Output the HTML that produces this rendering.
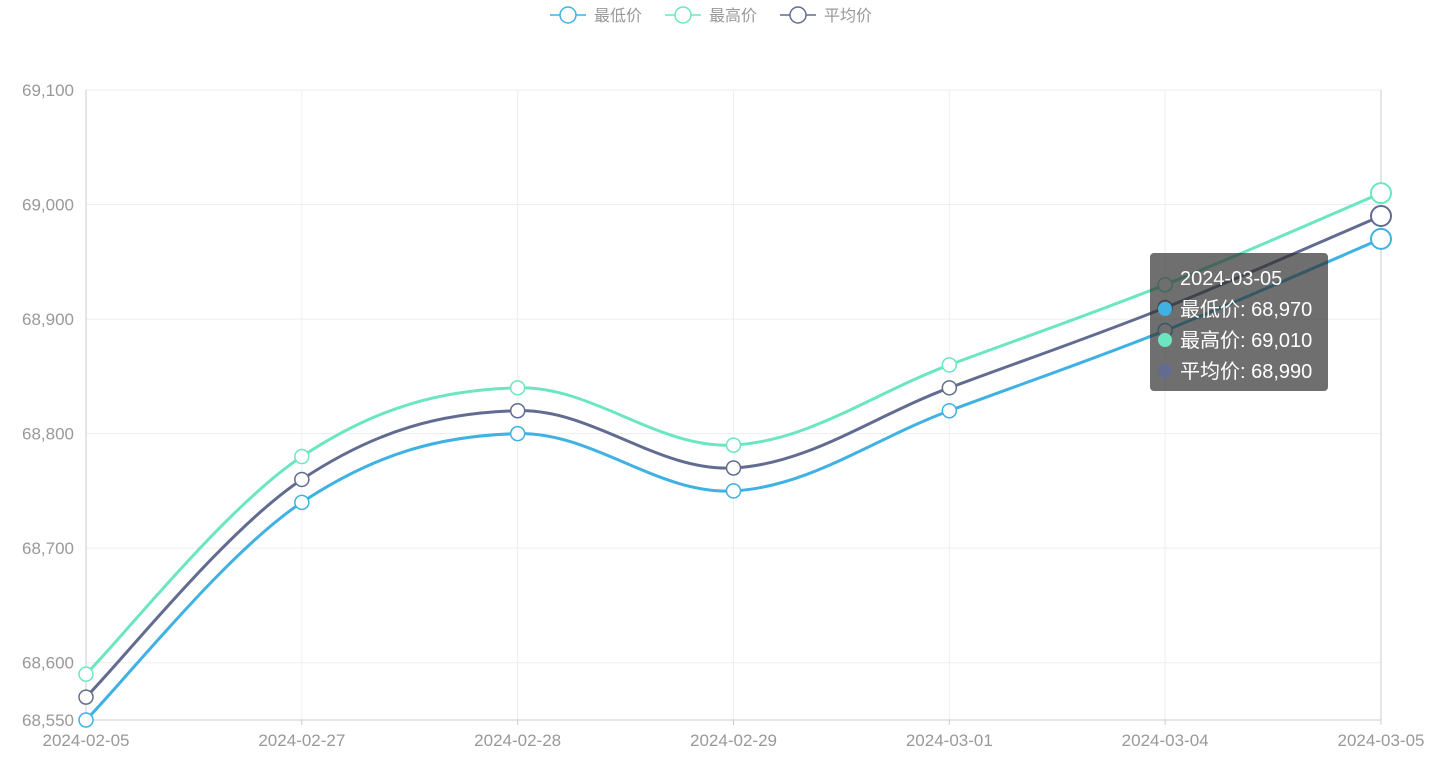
<!DOCTYPE html>
<html><head><meta charset="utf-8"><style>
html,body{margin:0;padding:0;background:#fff;width:1449px;height:762px;overflow:hidden}
svg text{font-family:"Liberation Sans","Noto Sans CJK SC",sans-serif}
</style></head><body>
<svg id="chart" width="1449" height="762"></svg>
<script>
const categories=["2024-02-05","2024-02-27","2024-02-28","2024-02-29","2024-03-01","2024-03-04","2024-03-05"];
const lowValues=[68550,68740,68800,68750,68820,68890,68970];
const highValues=[68590,68780,68840,68790,68860,68930,69010];
const avgValues=[68570,68760,68820,68770,68840,68910,68990];
const seriesNames=["最低价","最高价","平均价"];
const yTicks=[68550,68600,68700,68800,68900,69000,69100];
const NS="http://www.w3.org/2000/svg";
const svg=document.getElementById('chart');
const L=86,R=1381,T=90,B=720,yMin=68550,yMax=69100;
const x=i=>L+(R-L)*i/(categories.length-1);
const y=v=>B-(v-yMin)/(yMax-yMin)*(B-T);
function mk(tag,attrs,parent){const e=document.createElementNS(NS,tag);for(const k in attrs)e.setAttribute(k,attrs[k]);(parent||svg).appendChild(e);return e;}
const fmt=v=>v.toLocaleString('en-US');
// grid
yTicks.forEach(t=>{
  if(t!==yMin){const g=mk('line',{x1:L,x2:R,y1:y(t),y2:y(t),stroke:'#eee'});
  
  }
  const tx=mk('text',{x:L-12,y:y(t)+6,'text-anchor':'end','font-size':17,fill:'#999'});
  tx.textContent=fmt(t);
  
  
});
categories.forEach((c,i)=>{
  if(i>0&&i<categories.length-1){const g=mk('line',{x1:x(i),x2:x(i),y1:T,y2:B,stroke:'#eee'});
  
  }
  const tk=mk('line',{x1:x(i),x2:x(i),y1:B,y2:B+5,stroke:'#ccc'});
  
  
  const tx=mk('text',{x:x(i),y:B+26,'text-anchor':'middle','font-size':17,fill:'#999'});
  tx.textContent=c;
  
  
});
const ax=mk('line',{x1:L,x2:R,y1:B,y2:B,stroke:'#ccc'});


const ayl=mk('line',{x1:L,x2:L,y1:T,y2:B,stroke:'#ccc'});


const ayr=mk('line',{x1:R,x2:R,y1:T,y2:B,stroke:'#ccc'});


function path(vals){
  const p=vals.map((v,i)=>[x(i),y(v)]);let d=`M${p[0][0]},${p[0][1]}`;const s=0.35;
  for(let i=0;i<p.length-1;i++){const p0=p[Math.max(0,i-1)],p1=p[i],p2=p[i+1],p3=p[Math.min(p.length-1,i+2)];
    const c1=[p1[0]+(p2[0]-p0[0])*s/2,p1[1]+(p2[1]-p0[1])*s/2],c2=[p2[0]-(p3[0]-p1[0])*s/2,p2[1]-(p3[1]-p1[1])*s/2];
    d+=` C${c1[0]},${c1[1]} ${c2[0]},${c2[1]} ${p2[0]},${p2[1]}`;}
  return d;}
const colors=['#3fb1e3','#6be6c1','#626c91'];
const slugs=['low','high','avg'];
[lowValues,highValues,avgValues].forEach((vals,si)=>{
  const pl=mk('path',{d:path(vals),fill:'none',stroke:colors[si],'stroke-width':3});
  
  
});
[lowValues,highValues,avgValues].forEach((vals,si)=>{
  vals.forEach((v,i)=>{const last=i===vals.length-1;
    const c=mk('circle',{cx:x(i),cy:y(v),r:last?10:7,fill:'#fff',stroke:colors[si],'stroke-width':last?2:1.5});
    
    });
});
// legend
const lg=mk('g',{});


const lx=[550,665,780];
seriesNames.forEach((n,si)=>{
  const g=mk('g',{},lg);
  
  
  mk('line',{x1:lx[si],x2:lx[si]+36,y1:15,y2:15,stroke:colors[si],'stroke-width':1.5},g);
  mk('circle',{cx:lx[si]+18,cy:15,r:8,fill:'#fff',stroke:colors[si],'stroke-width':1.5},g);
  const t=mk('text',{x:lx[si]+44,y:21,'font-size':16,fill:'#999'},g);t.textContent=n;
});
// tooltip
const tt=mk('g',{});


mk('rect',{x:1150,y:253,width:178,height:138,rx:4,fill:'rgba(50,50,50,0.7)'},tt);
const h=mk('text',{x:1180,y:285,'font-size':20,fill:'#fff'},tt);h.textContent=categories[6];
[lowValues,highValues,avgValues].forEach((vals,si)=>{
  const yy=316+si*31;
  mk('circle',{cx:1165,cy:yy-7,r:7,fill:colors[si]},tt);
  const t=mk('text',{x:1180,y:yy,'font-size':20,fill:'#fff'},tt);
  t.textContent=seriesNames[si]+': '+fmt(vals[6]);
});
</script>
</body></html>
